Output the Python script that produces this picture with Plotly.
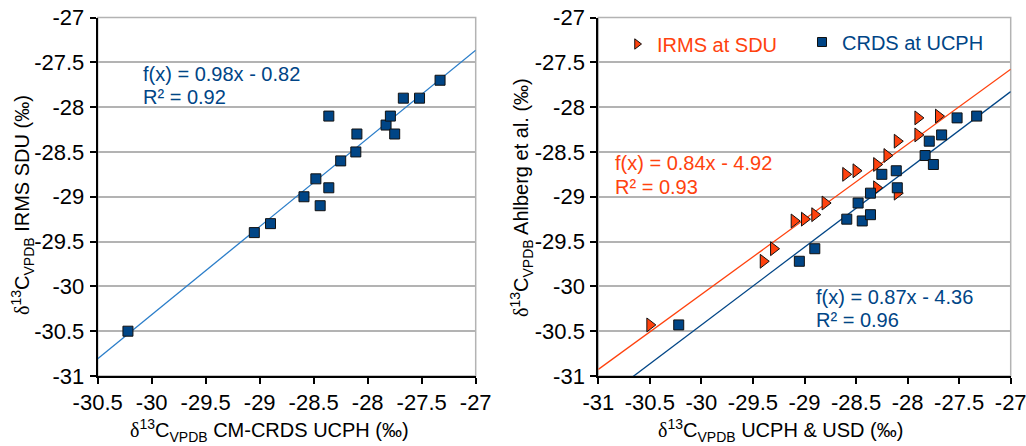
import numpy as np
import plotly.graph_objects as go

# ---- data (per sample) ----
crds_ucph = [-30.22, -29.05, -28.90, -28.59, -28.48, -28.44, -28.36, -28.36, -28.25,
             -28.11, -28.10, -27.83, -27.79, -27.75, -27.67, -27.52, -27.33]
irms_sdu = [-30.5, -29.4, -29.3, -29.0, -28.8, -29.1, -28.9, -28.1, -28.6,
            -28.5, -28.3, -28.2, -28.1, -28.3, -27.9, -27.9, -27.7]
ahlberg = [-30.43, -29.72, -29.58, -29.25, -29.07, -29.27, -29.20, -28.96, -28.75,
           -28.71, -28.90, -28.54, -28.38, -28.64, -28.31, -28.12, -28.10]

xticks_left = [-30.5, -30, -29.5, -29, -28.5, -28, -27.5, -27]
xticklabels_left = ["-30.5", "-30", "-29.5", "-29", "-28.5", "-28", "-27.5", "-27"]
xticks_right = [-31, -30.5, -30, -29.5, -29, -28.5, -28, -27.5, -27]
xticklabels_right = ["-31", "-30.5", "-30", "-29.5", "-29", "-28.5", "-28", "-27.5", "-27"]
yticks = [-31, -30.5, -30, -29.5, -29, -28.5, -28, -27.5, -27]
yticklabels = ["-31", "-30.5", "-30", "-29.5", "-29", "-28.5", "-28", "-27.5", "-27"]

BLUE = "#004586"
ORANGE = "#ff420e"
LBLUE = "#2a7dc9"
GRID = "#b3b3b3"
FONT = "Liberation Sans, Arial, sans-serif"
DELTA = '<span style="font-family:Liberation Serif">δ</span>'

fig = go.Figure()

# left: trend line (regression of the data)
sl, ic = np.polyfit(crds_ucph, irms_sdu, 1)
xl = np.array([-30.5, -27.0])
fig.add_trace(go.Scatter(x=xl, y=sl * xl + ic, mode="lines", line=dict(color=LBLUE, width=1.3),
                         showlegend=False, xaxis="x", yaxis="y", hoverinfo="skip"))
fig.add_trace(go.Scatter(x=crds_ucph, y=irms_sdu, mode="markers",
                         marker=dict(symbol="square", size=10, color=BLUE, line=dict(color="#111", width=1)),
                         showlegend=False, xaxis="x", yaxis="y"))

# right: trend lines
xr = np.array([-31.0, -27.0])
s2, i2 = np.polyfit(irms_sdu, ahlberg, 1)
s3, i3 = np.polyfit(crds_ucph, ahlberg, 1)
fig.add_trace(go.Scatter(x=xr, y=s2 * xr + i2, mode="lines", line=dict(color=ORANGE, width=1.3),
                         showlegend=False, xaxis="x2", yaxis="y2", hoverinfo="skip"))
fig.add_trace(go.Scatter(x=xr, y=s3 * xr + i3, mode="lines", line=dict(color=BLUE, width=1.3),
                         showlegend=False, xaxis="x2", yaxis="y2", hoverinfo="skip"))
fig.add_trace(go.Scatter(x=irms_sdu, y=ahlberg, mode="markers",
                         marker=dict(symbol="triangle-right", size=12, color=ORANGE, line=dict(color="#111", width=1)),
                         showlegend=False, xaxis="x2", yaxis="y2"))
fig.add_trace(go.Scatter(x=crds_ucph, y=ahlberg, mode="markers",
                         marker=dict(symbol="square", size=10, color=BLUE, line=dict(color="#111", width=1)),
                         showlegend=False, xaxis="x2", yaxis="y2"))

# legend entries
fig.add_trace(go.Scatter(x=[None], y=[None], mode="markers", name="IRMS at SDU",
                         marker=dict(symbol="triangle-right", size=9, color=ORANGE, line=dict(color="#111", width=1)),
                         xaxis="x2", yaxis="y2", legend="legend"))
fig.add_trace(go.Scatter(x=[None], y=[None], mode="markers", name="CRDS at UCPH",
                         marker=dict(symbol="square", size=9, color=BLUE, line=dict(color="#111", width=1)),
                         xaxis="x2", yaxis="y2", legend="legend2"))

W, H = 1026, 446
ydom = [1 - 376 / H, 1 - 17.5 / H]

axcommon = dict(showline=True, linecolor="black", linewidth=2, ticks="outside", ticklen=6,
                tickwidth=2, tickcolor="black", tickfont=dict(family=FONT, size=22, color="black"),
                zeroline=False, mirror=False, automargin=False, ticklabeloverflow="allow")

fig.update_layout(
    template="none",
    width=W, height=H, margin=dict(l=0, r=0, t=0, b=0, autoexpand=False),
    paper_bgcolor="white", plot_bgcolor="white",
    font=dict(family=FONT, size=19, color="black"),
    xaxis=dict(domain=[97.7 / W, 475.7 / W], range=[-30.5, -27], tickvals=xticks_left,
               ticktext=xticklabels_left, showgrid=False, anchor="y", **axcommon),
    yaxis=dict(domain=ydom, range=[-31, -27], tickvals=yticks, ticktext=yticklabels,
               showgrid=True, gridcolor=GRID, gridwidth=1.5, anchor="x", ticklabelstandoff=1, **axcommon),
    xaxis2=dict(domain=[598.3 / W, 1010.7 / W], range=[-31, -27], tickvals=xticks_right,
                ticktext=xticklabels_right, showgrid=False, anchor="y2", **axcommon),
    yaxis2=dict(domain=ydom, range=[-31, -27], tickvals=yticks, ticktext=yticklabels,
                showgrid=True, gridcolor=GRID, gridwidth=1.5, anchor="x2", ticklabelstandoff=1, **axcommon),
    legend=dict(x=617 / W, y=1 - 44 / H, xanchor="left", yanchor="middle", bgcolor="rgba(0,0,0,0)",
                font=dict(family=FONT, size=20, color=ORANGE), borderwidth=0),
    legend2=dict(x=802 / W, y=1 - 42 / H, xanchor="left", yanchor="middle", bgcolor="rgba(0,0,0,0)",
                 font=dict(family=FONT, size=20, color=BLUE), borderwidth=0),
    shapes=[
        dict(type="rect", xref="x domain", yref="y domain", x0=0, x1=1, y0=0, y1=1,
             line=dict(color=GRID, width=1.5), layer="below"),
        dict(type="rect", xref="x2 domain", yref="y2 domain", x0=0, x1=1, y0=0, y1=1,
             line=dict(color=GRID, width=1.5), layer="below"),
    ],
)

ann = []
def txt(x, y, t, color, size=20, angle=0, xanchor="left"):
    ann.append(dict(x=x / W, y=1 - y / H, xref="paper", yref="paper", text=t, showarrow=False,
                    xanchor=xanchor, yanchor="middle", textangle=angle, align="left",
                    font=dict(family=FONT, size=size, color=color)))

txt(141, 74, "f(x) = 0.98x - 0.82", BLUE)
txt(141, 97, "R² = 0.92", BLUE)
txt(613, 163, "f(x) = 0.84x - 4.92", ORANGE)
txt(613, 187, "R² = 0.93", ORANGE)
txt(814, 297, "f(x) = 0.87x - 4.36", BLUE)
txt(814, 320, "R² = 0.96", BLUE)

txt(269, 430, DELTA + "<sup>13</sup>C<sub>VPDB</sub> CM-CRDS UCPH (‰)", "black", 20, xanchor="center")
txt(780, 430, DELTA + "<sup>13</sup>C<sub>VPDB</sub> UCPH &amp; USD (‰)", "black", 20, xanchor="center")
txt(22, 205, DELTA + "<sup>13</sup>C<sub>VPDB</sub> IRMS SDU (‰)", "black", 20, angle=-90, xanchor="center")
txt(522, 198, DELTA + "<sup>13</sup>C<sub>VPDB</sub> Ahlberg et al. (‰)", "black", 20, angle=-90, xanchor="center")
fig.update_layout(annotations=ann)

fig.write_html("out.html")
